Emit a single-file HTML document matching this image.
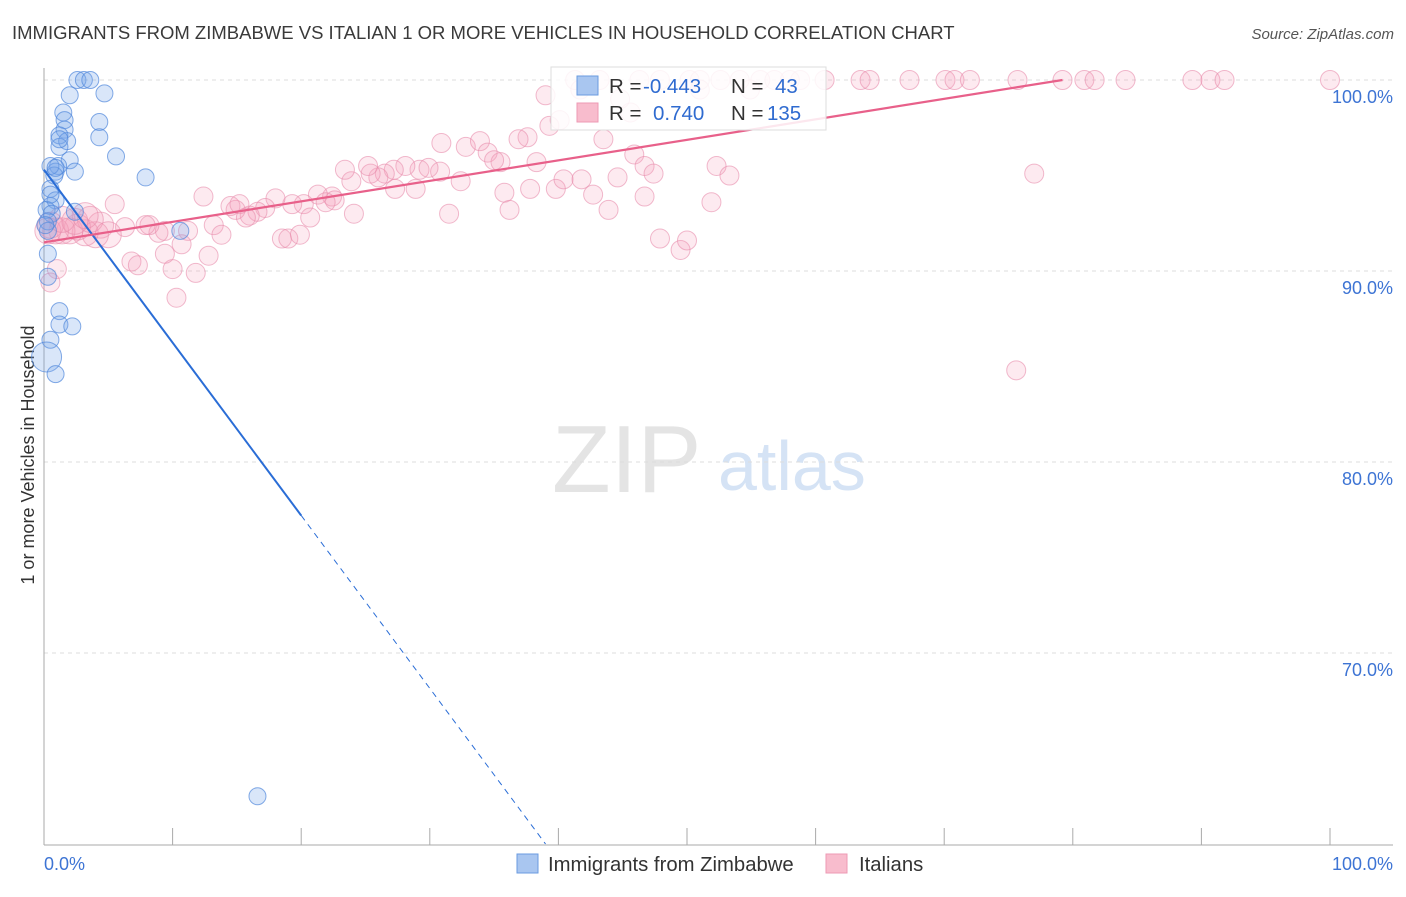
<!DOCTYPE html>
<html><head><meta charset="utf-8">
<style>
body{margin:0;background:#fff;font-family:"Liberation Sans",sans-serif;}
svg text{font-family:"Liberation Sans",sans-serif;}
</style></head>
<body>
<svg id="chart" width="1406" height="892">
<text x="12" y="39" font-size="18.5" fill="#3a3a3a">IMMIGRANTS FROM ZIMBABWE VS ITALIAN 1 OR MORE VEHICLES IN HOUSEHOLD CORRELATION CHART</text>
<text x="1394" y="39" font-size="15" fill="#555" text-anchor="end" font-style="italic">Source: ZipAtlas.com</text>
<text transform="translate(34,455) rotate(-90)" font-size="18" fill="#333" text-anchor="middle">1 or more Vehicles in Household</text>
<g>
<text x="552" y="492" font-size="96" fill="#e4e4e4" font-family="Liberation Serif,serif">ZIP</text>
<text x="718" y="490" font-size="70" fill="#d5e3f5">atlas</text>
</g>
<g id="grid"></g>
<g id="axes"></g>
<g id="pink"></g>
<g id="blue"></g>
<g id="trends"></g>
<g>
<rect x="551" y="67" width="275" height="63" fill="#fff" fill-opacity="0.85" stroke="#ddd"/>
<rect x="577" y="76" width="21" height="19" fill="#a9c6f0" stroke="#6a9be0"/>
<rect x="577" y="103" width="21" height="19" fill="#f8bccd" stroke="#ee9ab4"/>
<text x="609" y="93" font-size="20.5" fill="#333">R =</text>
<text x="643" y="93" font-size="20.5" fill="#2f6bd0">-0.443</text>
<text x="731" y="93" font-size="20.5" fill="#333">N =</text>
<text x="775" y="93" font-size="20.5" fill="#2f6bd0">43</text>
<text x="609" y="120" font-size="20.5" fill="#333">R =</text>
<text x="653" y="120" font-size="20.5" fill="#2f6bd0">0.740</text>
<text x="731" y="120" font-size="20.5" fill="#333">N =</text>
<text x="767" y="120" font-size="20.5" fill="#2f6bd0">135</text>
</g>
<g>
<rect x="517" y="854" width="21" height="19" fill="#a9c6f0" stroke="#6a9be0"/>
<text x="548" y="871" font-size="20.3" fill="#333">Immigrants from Zimbabwe</text>
<rect x="826" y="854" width="21" height="19" fill="#f8bccd" stroke="#ee9ab4"/>
<text x="859" y="871" font-size="20.3" fill="#333">Italians</text>
</g>
</svg>
<script>
const xTicks=[0,10,20,30,40,50,60,70,80,90,100];
const yTicks=[70,80,90,100];
const blueX=[2.6,3.1,3.6,2.0,4.7,1.5,1.6,1.6,1.2,1.8,1.2,4.3,4.3,5.6,2.0,1.1,0.9,0.8,2.4,7.9,0.5,0.9,0.5,0.2,0.6,0.3,2.4,10.6,0.3,0.3,1.2,1.2,2.2,0.5,0.2,0.9,16.6,0.5,0.3,0.9,0.1,0.5,1.2];
const blueY=[100,100,100,99.2,99.3,98.3,97.9,97.4,97.1,96.8,96.5,97.8,97.0,96.0,95.8,95.5,95.2,95.0,95.2,94.9,94.3,93.7,93.4,93.2,93.0,92.6,93.1,92.1,90.9,89.7,87.9,87.2,87.1,86.4,85.5,84.6,62.5,95.5,92.1,95.4,92.4,94.0,96.9];
const pinkX=[41.3,43.2,46.3,47.9,50.2,51.0,52.6,54.1,55.7,56.8,58.0,58.8,60.7,63.5,64.2,67.3,70.1,70.8,72.0,75.7,79.2,80.9,81.7,84.1,89.3,90.7,91.8,100,
30.9,32.8,33.9,34.5,35.5,35.0,37.6,36.9,39.3,38.3,32.4,30.8,29.2,29.9,28.1,27.2,26.5,26.0,25.4,23.9,23.4,25.2,22.4,22.6,21.3,21.9,20.2,19.3,18.0,17.2,16.6,16.0,14.9,14.5,15.2,15.7,12.4,13.2,13.8,11.2,10.7,9.4,8.9,8.2,7.9,6.3,5.5,4.4,4.0,3.2,2.6,2.0,1.4,0.9,0.5,3.6,5.0,6.8,7.3,10.0,9.4,11.8,10.3,12.8,18.5,19.0,19.9,20.7,24.1,27.3,28.9,31.5,35.8,36.2,37.8,39.8,40.4,41.8,42.7,43.9,44.6,45.9,46.7,47.4,46.7,47.9,49.5,50.0,51.9,52.3,53.3,43.5,45.6,77.0,75.6,1.0,0.5,0.3,2.4,3.2,1.4,41.7,44.8,39.0,40.1,54.9,51.0];
const pinkY=[100,100,100,100,100,100,100,100,100,100,100,100,100,100,100,100,100,100,100,100,100,100,100,100,100,100,100,100,
96.7,96.5,96.8,96.2,95.7,95.8,97.0,96.9,97.6,95.7,94.7,95.2,95.3,95.4,95.5,95.3,95.1,94.9,95.1,94.7,95.3,95.5,93.9,93.7,94.0,93.6,93.5,93.5,93.8,93.3,93.1,92.9,93.2,93.4,93.5,92.8,93.9,92.4,91.9,92.1,91.4,92.1,92.0,92.4,92.4,92.3,93.5,92.4,91.9,92.0,92.3,92.1,92.1,92.1,92.4,92.7,91.9,90.5,90.3,90.1,90.9,89.9,88.6,90.8,91.7,91.7,91.9,92.8,93.0,94.3,94.3,93.0,94.1,93.2,94.3,94.3,94.8,94.8,94.0,93.2,94.9,96.1,95.5,95.1,93.9,91.7,91.1,91.6,93.6,95.5,95.0,96.9,98.3,95.1,84.8,90.1,89.4,92.1,92.6,92.9,92.7,99.5,99.0,99.2,97.9,99.5,99.5];
const blueTrend=[[0,95.3],[20,77.2],[39,60.0]];
const pinkTrend=[[0,91.5],[79.2,100]];
const X=v=>44+v*12.86, Y=v=>80+(100-v)*19.1;
const NS="http://www.w3.org/2000/svg";
function mk(t,p,a){const e=document.createElementNS(NS,t);for(const k in a)e.setAttribute(k,a[k]);p.appendChild(e);return e;}
const grid=document.getElementById('grid'),axes=document.getElementById('axes');
yTicks.forEach(v=>{
 const l=mk('line',grid,{x1:44,x2:1393,y1:Y(v),y2:Y(v),stroke:'#ddd','stroke-dasharray':'4,4'});
 
 
 const t=mk('text',axes,{x:1393,y:Y(v)+23,'font-size':18,fill:'#3d74d4','text-anchor':'end'});
 t.textContent=v.toFixed(1)+'%';
 
 
});
const ax=mk('line',axes,{x1:44,x2:44,y1:68,y2:845,stroke:'#aaa'});


const bx=mk('line',axes,{x1:44,x2:1393,y1:845,y2:845,stroke:'#aaa'});


xTicks.forEach(v=>{
 const l=mk('line',axes,{x1:X(v),x2:X(v),y1:828,y2:845,stroke:'#aaa'});
 
 
});
[[0,'start'],[100,'end']].forEach(([v,a])=>{
 const t=mk('text',axes,{x:v==0?44:1393,y:870,'font-size':18,fill:'#3d74d4','text-anchor':a});
 t.textContent=v.toFixed(1)+'%';
 
 
});
const pg=document.getElementById('pink');
pinkX.forEach((x,i)=>{
 const big=(x<6&&pinkY[i]>91&&pinkY[i]<93.5);
 const c=mk('circle',pg,{cx:X(x),cy:Y(pinkY[i]),r:big?13:9.5,fill:'rgba(244,160,185,0.22)',stroke:'rgba(232,140,172,0.6)','stroke-width':1});
 
 
});
const bg=document.getElementById('blue');
blueX.forEach((x,i)=>{
 const c=mk('circle',bg,{cx:X(x),cy:Y(blueY[i]),r:blueY[i]==85.5?15:8.5,fill:'rgba(120,165,235,0.28)',stroke:'rgba(80,135,220,0.7)','stroke-width':1});
 
 
});
const tg=document.getElementById('trends');
const b1=mk('line',tg,{x1:X(blueTrend[0][0]),y1:Y(blueTrend[0][1]),x2:X(blueTrend[1][0]),y2:Y(blueTrend[1][1]),stroke:'#2a6dd6','stroke-width':2});


const b2=mk('line',tg,{x1:X(blueTrend[1][0]),y1:Y(blueTrend[1][1]),x2:X(blueTrend[2][0]),y2:Y(blueTrend[2][1]),stroke:'#2a6dd6','stroke-width':1,'stroke-dasharray':'6,5'});


const p1=mk('line',tg,{x1:X(pinkTrend[0][0]),y1:Y(pinkTrend[0][1]),x2:X(pinkTrend[1][0]),y2:Y(pinkTrend[1][1]),stroke:'#e8608a','stroke-width':2.2});


</script>
</body></html>
